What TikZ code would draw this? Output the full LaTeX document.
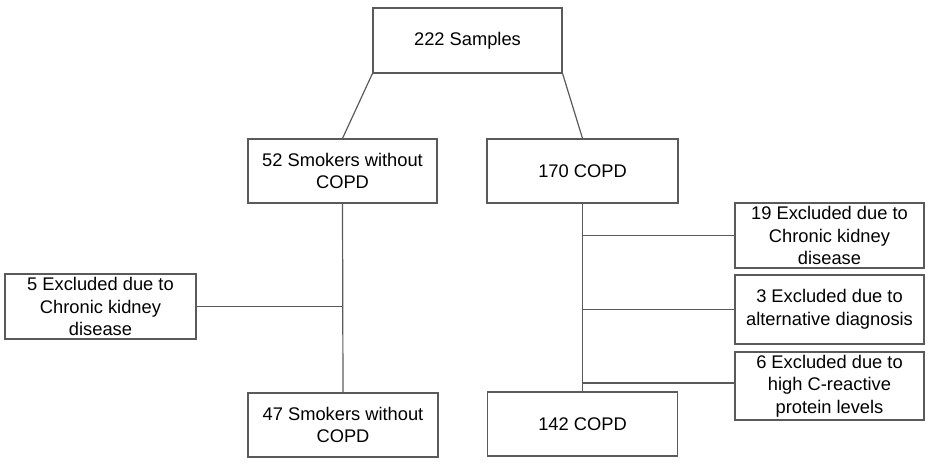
\documentclass[tikz,border=0pt]{standalone}
\usepackage{fontspec}
\setmainfont{Liberation Sans}
\usepackage{xcolor}

\begin{document}
\begin{tikzpicture}[x=1pt, y=-1pt, line width=1.2pt,
	box/.style={shape=rectangle, draw={rgb,255:red,90;green,90;blue,90}, align=center, inner sep=0pt, font=\fontsize{18.3}{22.5}\selectfont},
	wire/.style={draw={rgb,255:red,90;green,90;blue,90}}]

	\useasboundingbox (0, 0) rectangle (935, 464);

	% Boxes:
	\node[box, minimum width=189pt, minimum height=65pt](samples) at (467.5, 40.5){222 Samples};
	\node[box, minimum width=189pt, minimum height=64pt](smk) at (342.5, 171){52 Smokers without\\COPD};
	\node[box, minimum width=191pt, minimum height=64pt](copd) at (582.5, 171){170 COPD};
	\node[box, minimum width=191pt, minimum height=65pt](exL) at (100.5, 306.5){5 Excluded due to\\Chronic kidney\\disease};
	\node[box, minimum width=189pt, minimum height=65pt](exA) at (829.5, 235.5){19 Excluded due to\\Chronic kidney\\disease};
	\node[box, minimum width=189pt, minimum height=69pt](exB) at (829.5, 309.5){3 Excluded due to\\alternative diagnosis};
	\node[box, minimum width=189pt, minimum height=68pt](exC) at (829.5, 386){6 Excluded due to\\high C-reactive\\protein levels};
	\node[box, minimum width=190pt, minimum height=64pt](smkEnd) at (343, 425){47 Smokers without\\COPD};
	\node[box, minimum width=190pt, minimum height=64pt](copdEnd) at (582.5, 424){142 COPD};

	% Wires:
	\draw[wire] (samples.south west) -- (smk.north);
	\draw[wire] (samples.south east) -- (copd.north);
	\draw[wire] (smk.south) -- (smkEnd.north);
	\draw[wire] (copd.south) -- (copdEnd.north);
	\draw[wire] (exL.east) -- (exL.east -| smk.south);
	\draw[wire] (exA.west) -- (exA.west -| copd.south);
	\draw[wire] (exB.west) -- (exB.west -| copd.south);
	\draw[wire] ([yshift=3pt]exC.west) -- ([yshift=3pt]exC.west -| copd.south);

\end{tikzpicture}
\end{document}
